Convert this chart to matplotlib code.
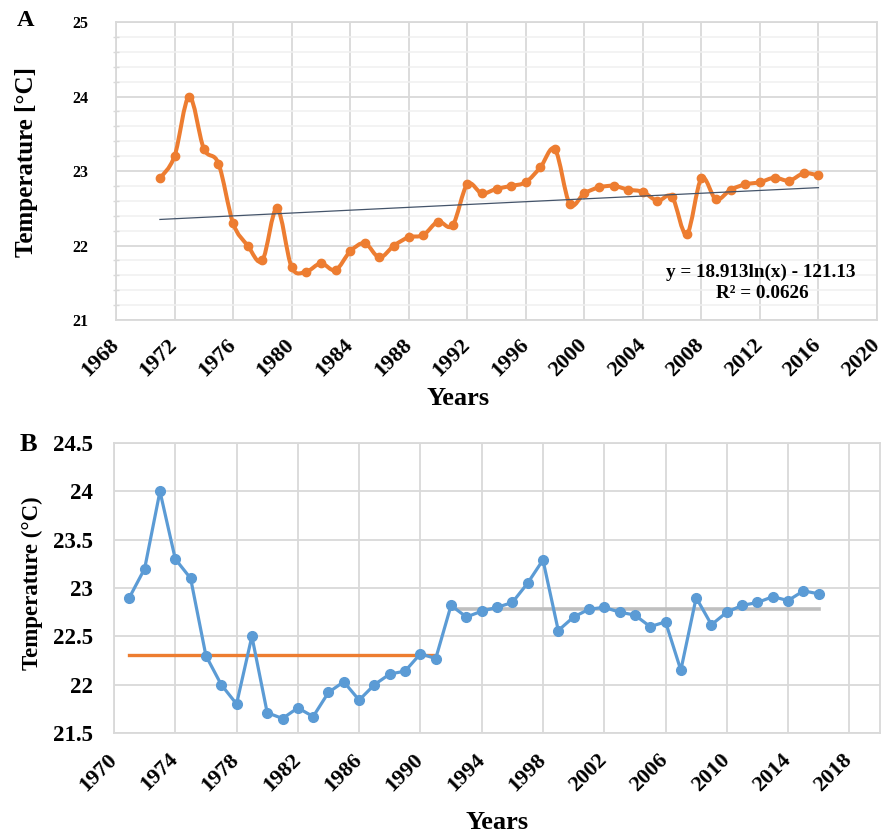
import numpy as np
import matplotlib
matplotlib.use('Agg')
import matplotlib.pyplot as plt
from matplotlib.path import Path
from matplotlib.patches import PathPatch
from matplotlib.ticker import MultipleLocator, FuncFormatter

plt.rcParams['font.family'] = ['Liberation Serif', 'DejaVu Serif']
plt.rcParams['font.weight'] = 'bold'

# ---------------- data ----------------
years = list(range(1971, 2017))
temps = [22.90, 23.20, 24.00, 23.30, 23.10, 22.30, 22.00, 21.80, 22.50, 21.71,
         21.65, 21.76, 21.67, 21.92, 22.03, 21.84, 22.00, 22.11, 22.14, 22.32,
         22.27, 22.82, 22.70, 22.76, 22.80, 22.85, 23.05, 23.29, 22.56, 22.70,
         22.78, 22.80, 22.75, 22.72, 22.60, 22.65, 22.15, 22.90, 22.62, 22.75,
         22.82, 22.85, 22.91, 22.87, 22.97, 22.94]
trend_coef = 18.913
trend_const = -121.13
trend_r2 = 0.0626
period1_years = [1971, 1991]
period1_mean = 22.31
period2_years = [1992, 2016]
period2_mean = 22.78

ORANGE = '#ED7D31'
BLUE = '#5B9BD5'
GRAY = '#BFBFBF'
TREND = '#44546A'
GRID = '#D9D9D9'
MINOR_GRID = '#F0F0F0'

W, H = 885, 838
fig = plt.figure(figsize=(W / 100, H / 100), dpi=100)


def axes_px(left, top, right, bottom):
    return fig.add_axes([left / W, 1 - bottom / H, (right - left) / W, (bottom - top) / H])


def style_axes(ax):
    for s in ax.spines.values():
        s.set_color(GRID)
        s.set_linewidth(1.3)
    ax.grid(True, which='major', color=GRID, linewidth=1.3)
    ax.set_axisbelow(True)


def rotate_xticks(ax):
    for lab in ax.get_xticklabels():
        lab.set_rotation(45)
        lab.set_ha('right')
        lab.set_va('center')
        lab.set_rotation_mode('anchor')


fmt = FuncFormatter(lambda v, p: '{:g}'.format(round(v, 2)))

# ---------------- Panel A ----------------
axA = axes_px(116, 22, 877, 320)
style_axes(axA)
axA.set_xlim(1968, 2020)
axA.set_ylim(21, 25)
axA.xaxis.set_major_locator(MultipleLocator(4))
axA.yaxis.set_major_locator(MultipleLocator(1))
axA.yaxis.set_minor_locator(MultipleLocator(0.2))
axA.grid(True, which='minor', axis='y', color=MINOR_GRID, linewidth=1.1)
axA.tick_params(axis='both', which='major', length=0)
axA.tick_params(axis='y', which='minor', length=4, width=1, color=GRID, direction='inout')
axA.tick_params(axis='y', which='major', labelsize=11.5, pad=20)
axA.tick_params(axis='x', which='major', labelsize=16, pad=16)
axA.yaxis.set_major_formatter(fmt)
rotate_xticks(axA)

# smoothed line (Excel-like smoothing through the data points)
x = np.array(years, dtype=float)
y = np.array(temps, dtype=float)
pts = np.column_stack([x, y])
ext = np.vstack([pts[0], pts, pts[-1]])
verts = [tuple(pts[0])]
codes = [Path.MOVETO]
for i in range(len(pts) - 1):
    p0, p1, p2, p3 = ext[i], ext[i + 1], ext[i + 2], ext[i + 3]
    c1 = p1 + (p2 - p0) / 6.0
    c2 = p2 - (p3 - p1) / 6.0
    verts += [tuple(c1), tuple(c2), tuple(p2)]
    codes += [Path.CURVE4, Path.CURVE4, Path.CURVE4]
axA.add_patch(PathPatch(Path(verts, codes), facecolor='none', edgecolor=ORANGE,
                        linewidth=2.9, capstyle='round', joinstyle='round', zorder=3))
axA.plot(years, temps, linestyle='none', marker='o', markersize=6,
         color=ORANGE, zorder=4)

trend_y = trend_coef * np.log(x) + trend_const
axA.plot(x, trend_y, color=TREND, linewidth=0.9, zorder=5)

axA.set_ylabel('Temperature [°C]', fontsize=18, fontweight='bold')
axA.yaxis.label.set_va('center')
axA.yaxis.set_label_coords(-0.118, 0.53)
axA.set_xlabel('Years', fontsize=19, fontweight='bold')
axA.xaxis.label.set_va('center')
axA.xaxis.set_label_coords(0.449, -0.265)

fig.text(761 / W, 1 - 272 / H, 'y = {:.3f}ln(x) - {:.2f}'.format(trend_coef, -trend_const),
         ha='center', va='center', fontsize=13.8, fontweight='bold')
fig.text(762 / W, 1 - 293 / H, 'R² = {:.4f}'.format(trend_r2),
         ha='center', va='center', fontsize=13.8, fontweight='bold')

fig.text(26 / W, 1 - 21 / H, 'A', ha='center', va='center', fontsize=17.5, fontweight='bold')

# ---------------- Panel B ----------------
axB = axes_px(114, 443, 880, 733)
style_axes(axB)
axB.set_xlim(1970, 2020)
axB.set_ylim(21.5, 24.5)
axB.set_xticks(np.arange(1970, 2019, 4))
axB.yaxis.set_major_locator(MultipleLocator(0.5))
axB.tick_params(axis='both', which='major', length=0)
axB.tick_params(axis='y', labelsize=16.5, pad=15)
axB.tick_params(axis='x', labelsize=16, pad=17)
axB.yaxis.set_major_formatter(fmt)
rotate_xticks(axB)

axB.plot(years, temps, color=BLUE, linewidth=2.3, marker='o', markersize=7, zorder=4)
axB.plot(period1_years, [period1_mean, period1_mean], color=ORANGE, linewidth=2.4, zorder=3)
axB.plot(period2_years, [period2_mean, period2_mean], color=GRAY, linewidth=2.6, zorder=3)

axB.set_ylabel('Temperature (°C)', fontsize=16.5, fontweight='bold')
axB.yaxis.label.set_va('center')
axB.yaxis.set_label_coords(-0.107, 0.517)
axB.set_xlabel('Years', fontsize=19, fontweight='bold')
axB.xaxis.label.set_va('center')
axB.xaxis.set_label_coords(0.5, -0.31)

fig.text(28 / W, 1 - 444 / H, 'B', ha='center', va='center', fontsize=19, fontweight='bold')

fig.savefig('out.png', dpi=100)
